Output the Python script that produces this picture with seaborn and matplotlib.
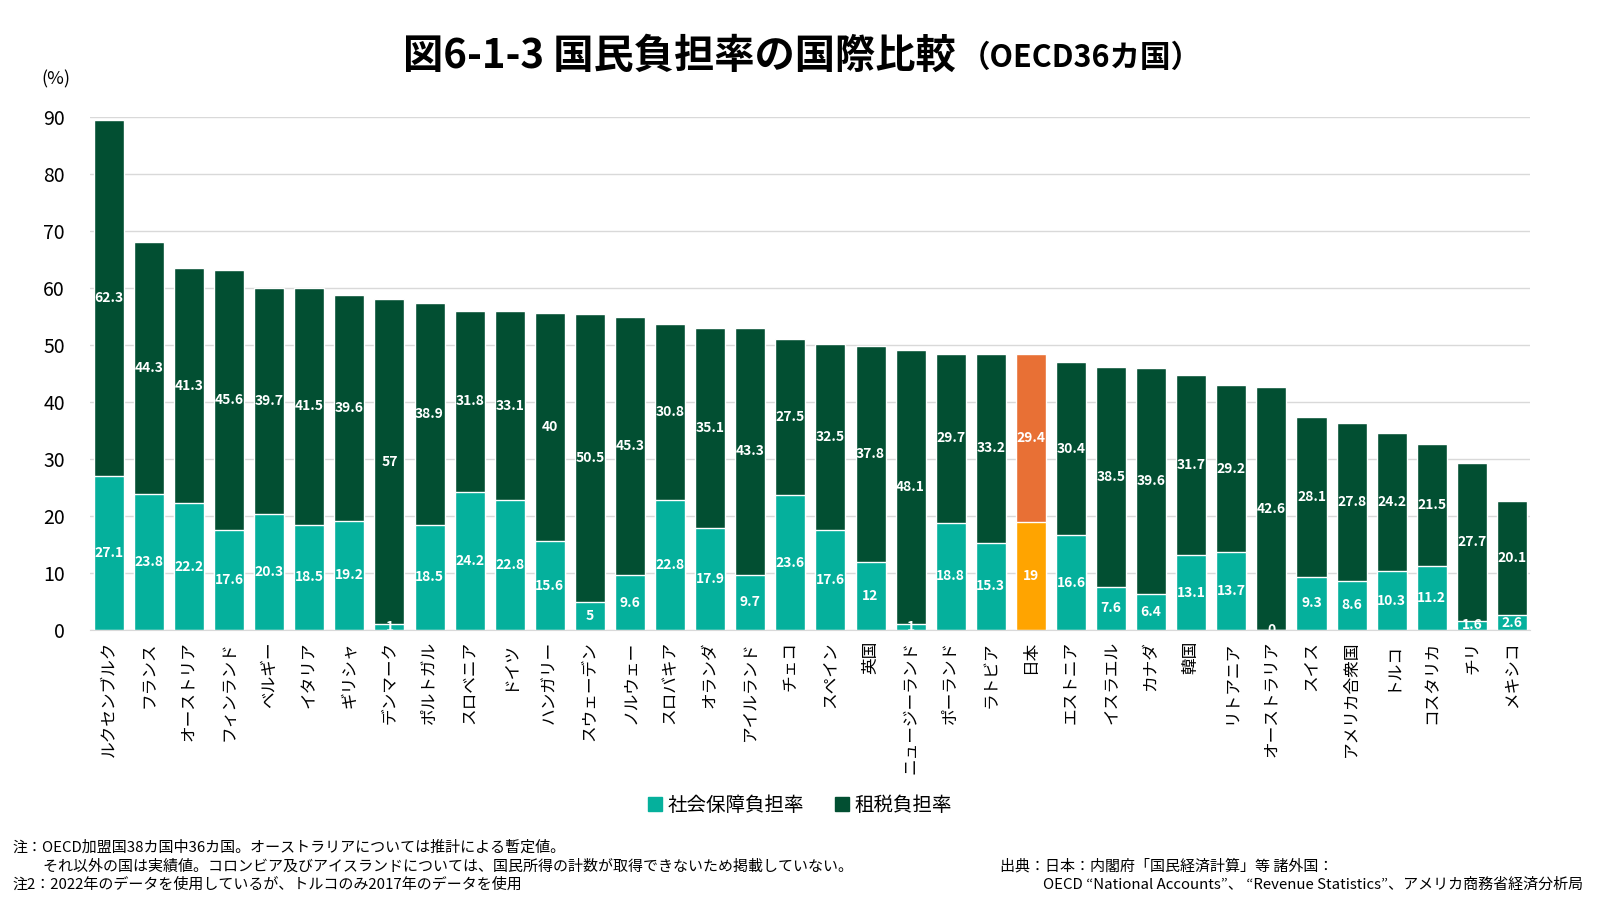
import pandas as pd
import matplotlib.pyplot as plt
import seaborn as sns
from matplotlib.patches import Patch

countries = ['ルクセンブルク', 'フランス', 'オーストリア', 'フィンランド', 'ベルギー', 'イタリア',
             'ギリシャ', 'デンマーク', 'ポルトガル', 'スロベニア', 'ドイツ', 'ハンガリー',
             'スウェーデン', 'ノルウェー', 'スロバキア', 'オランダ', 'アイルランド', 'チェコ',
             'スペイン', '英国', 'ニュージーランド', 'ポーランド', 'ラトビア', '日本',
             'エストニア', 'イスラエル', 'カナダ', '韓国', 'リトアニア', 'オーストラリア',
             'スイス', 'アメリカ合衆国', 'トルコ', 'コスタリカ', 'チリ', 'メキシコ']
social = [27.1, 23.8, 22.2, 17.6, 20.3, 18.5, 19.2, 1, 18.5, 24.2, 22.8, 15.6,
          5, 9.6, 22.8, 17.9, 9.7, 23.6, 17.6, 12, 1, 18.8, 15.3, 19,
          16.6, 7.6, 6.4, 13.1, 13.7, 0, 9.3, 8.6, 10.3, 11.2, 1.6, 2.6]
tax = [62.3, 44.3, 41.3, 45.6, 39.7, 41.5, 39.6, 57, 38.9, 31.8, 33.1, 40,
       50.5, 45.3, 30.8, 35.1, 43.3, 27.5, 32.5, 37.8, 48.1, 29.7, 33.2, 29.4,
       30.4, 38.5, 39.6, 31.7, 29.2, 42.6, 28.1, 27.8, 24.2, 21.5, 27.7, 20.1]
highlight = '日本'

TEAL = '#05B09C'
DARK = '#024F32'
JP_LOW = '#FFA400'
JP_TOP = '#E87035'

df = pd.DataFrame({'country': countries, 'social': social, 'tax': tax})
df['total'] = df['social'] + df['tax']

top_pal = {c: (JP_TOP if c == highlight else DARK) for c in countries}
low_pal = {c: (JP_LOW if c == highlight else TEAL) for c in countries}

sns.set_style('white')
plt.rcParams['font.family'] = ['Noto Sans CJK JP', 'DejaVu Sans']
plt.rcParams['text.color'] = 'black'
plt.rcParams['xtick.color'] = 'black'
plt.rcParams['ytick.color'] = 'black'

fig = plt.figure(figsize=(16, 9), dpi=100)
ax = fig.add_axes([0.05625, 0.30, 0.9, 0.57])

# stacked: full height first, social security drawn over the lower part
sns.barplot(data=df, x='country', y='total', hue='country', palette=top_pal,
            legend=False, width=0.75, saturation=1, errorbar=None, ax=ax, zorder=2)
sns.barplot(data=df, x='country', y='social', hue='country', palette=low_pal,
            legend=False, width=0.75, saturation=1, errorbar=None, ax=ax, zorder=2)

for i, (s, t) in enumerate(zip(df['social'], df['tax'])):
    ax.text(i, s / 2, f'{s:g}', ha='center', va='center', color='white',
            fontsize=10, fontweight='bold', clip_on=True, zorder=3)
    ax.text(i, s + t / 2, f'{t:g}', ha='center', va='center', color='white',
            fontsize=10, fontweight='bold', clip_on=True, zorder=3)

ax.set_ylim(0, 90)
ax.set_xlim(-0.47, len(countries) - 0.55)
ax.set_yticks(range(0, 91, 10))
ax.yaxis.grid(True, color='#D9D9D9', linewidth=1)
ax.set_axisbelow(True)
ax.set_xlabel('')
ax.set_ylabel('')
for side in ['top', 'left', 'right']:
    ax.spines[side].set_visible(False)
ax.spines['bottom'].set_color('#D9D9D9')
ax.tick_params(axis='y', length=0, labelsize=14, pad=18)
ax.tick_params(axis='x', length=0, labelsize=12, pad=8, labelrotation=90)

fig.text(0.5976, 0.9375, '図6-1-3 国民負担率の国際比較', ha='right', va='center',
         fontsize=29, fontweight='bold')
fig.text(0.6, 0.9355, '（OECD36カ国）', ha='left', va='center',
         fontsize=22, fontweight='bold')
fig.text(0.026, 0.912, '(%)', ha='left', va='center', fontsize=13)

handles = [Patch(color=TEAL, label='社会保障負担率'), Patch(color=DARK, label='租税負担率')]
fig.legend(handles=handles, loc='center', bbox_to_anchor=(0.5, 0.105), ncol=2,
           frameon=False, fontsize=14, handlelength=0.7, handleheight=0.7,
           handletextpad=0.3, columnspacing=1.6)

notes = ['注：OECD加盟国38カ国中36カ国。オーストラリアについては推計による暫定値。',
         '　　それ以外の国は実績値。コロンビア及びアイスランドについては、国民所得の計数が取得できないため掲載していない。',
         '注2：2022年のデータを使用しているが、トルコのみ2017年のデータを使用']
for k, line in enumerate(notes):
    fig.text(0.008, 0.058 - k * 0.0205, line, ha='left', va='center', fontsize=10.8)

fig.text(0.625, 0.0375, '出典：日本：内閣府「国民経済計算」等 諸外国：', ha='left', va='center', fontsize=10.8)
fig.text(0.652, 0.017, 'OECD “National Accounts”、 “Revenue Statistics”、アメリカ商務省経済分析局',
         ha='left', va='center', fontsize=10.8)

fig.savefig('out.png', dpi=100)
